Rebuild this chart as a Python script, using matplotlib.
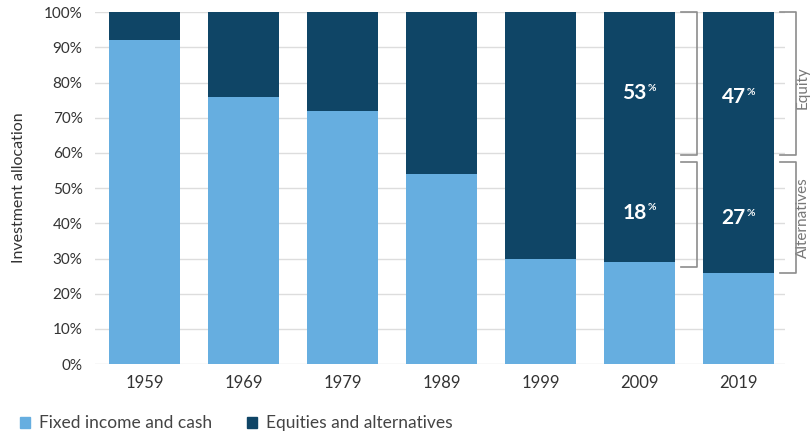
import matplotlib.pyplot as plt
from matplotlib.patches import Patch

plt.rcParams['font.family'] = ['Lato', 'DejaVu Sans']

years = ['1959', '1969', '1979', '1989', '1999', '2009', '2019']
fixed_income = [92, 76, 72, 54, 30, 29, 26]
equities_alt = [100 - v for v in fixed_income]

# split of the dark bar for the last two years
split_years = ['2009', '2019']
equity_share = [53, 47]
alt_share = [18, 27]

light = '#66aee0'
dark = '#0f4566'
grey = '#8c8c8c'

fig = plt.figure(figsize=(8.12, 4.32), dpi=100)
ax = fig.add_axes([0.117, 0.157, 0.85, 0.815])

x = list(range(len(years)))
ax.bar(x, fixed_income, width=0.72, color=light, zorder=2)
ax.bar(x, equities_alt, width=0.72, bottom=fixed_income, color=dark, zorder=2)

ax.set_ylim(0, 100)
ax.set_xlim(-0.5, 6.47)
ax.set_yticks(range(0, 101, 10))
ax.set_yticklabels([f'{v}%' for v in range(0, 101, 10)])
ax.set_xticks(x)
ax.set_xticklabels(years)
ax.tick_params(axis='y', length=0, labelsize=11, colors='#333333', pad=9)
ax.tick_params(axis='x', length=0, labelsize=12, colors='#333333', pad=8)
ax.grid(axis='y', color='#dddddd', lw=1, zorder=0)
for s in ax.spines.values():
    s.set_visible(False)
ax.set_ylabel('Investment allocation', fontsize=11.5, color='#333333')
ax.yaxis.set_label_coords(-0.1, 0.5)

# labels inside the 2009/2019 bars (equity label sits in the upper part, alternatives lower)
label_pos_eq = [77, 75.8]
label_pos_alt = [43, 41.5]
for yr, eq, al, ye, ya in zip(split_years, equity_share, alt_share, label_pos_eq, label_pos_alt):
    i = years.index(yr)
    for val, ypos in [(eq, ye), (al, ya)]:
        ax.text(i + 0.07, ypos, f'{val}', ha='right', va='center', color='white',
                fontsize=15, fontweight='bold', zorder=3)
        ax.annotate('%', (i + 0.07, ypos), xytext=(0.5, 3.5), textcoords='offset points',
                    ha='left', va='center', color='white', fontsize=7.5,
                    fontweight='bold', zorder=3)

# brackets on the right of 2009 and 2019
def bracket(x0, x1, y0, y1):
    ax.plot([x0, x1, x1, x0], [y1, y1, y0, y0], color=grey, lw=1.2,
            clip_on=False, zorder=4)

bracket(5.42, 5.58, 59.5, 100)
bracket(5.42, 5.58, 27.5, 57.5)
bracket(6.42, 6.58, 59.5, 100)
bracket(6.42, 6.58, 26, 57.5)
ax.text(6.65, 78.5, 'Equity', rotation=90, ha='center', va='center',
        fontsize=11, color='#777777', clip_on=False)
ax.text(6.65, 41.5, 'Alternatives', rotation=90, ha='center', va='center',
        fontsize=11, color='#777777', clip_on=False)

handles = [Patch(color=light, label='Fixed income and cash'),
           Patch(color=dark, label='Equities and alternatives')]
fig.legend(handles=handles, loc='lower left', bbox_to_anchor=(0.005, -0.035), ncol=2,
           frameon=False, fontsize=12.5, handlelength=0.6, handleheight=0.6,
           columnspacing=2.0, handletextpad=0.5, labelcolor='#444444')

fig.savefig('out.png', dpi=100)
